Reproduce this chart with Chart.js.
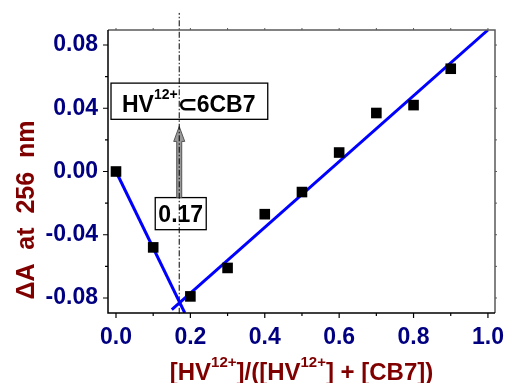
<!DOCTYPE html>
<html>
<head>
<meta charset="utf-8">
<script src="https://cdn.jsdelivr.net/npm/chart.js@4.4.1/dist/chart.umd.min.js"></script>
<style>
  html, body { margin: 0; padding: 0; background: #fff; }
</style>
</head>
<body>
<canvas id="chart" width="506" height="383"></canvas>
<script>
// measured points
const ratio = [0.0, 0.1, 0.2, 0.3, 0.4, 0.5, 0.6, 0.7, 0.8, 0.9];
const deltaA = [0.000, -0.048, -0.079, -0.061, -0.027, -0.013, 0.012, 0.037, 0.042, 0.065];

// the two straight fits, end points
const fitLeftX = [0.0, 0.185];
const fitLeftY = [0.0, -0.0895];
const fitRightX = [0.15, 1.0];
const fitRightY = [-0.0873, 0.0895];

// dash-dot marker at the crossing
const markX = [0.17, 0.17];
const markY = [-0.09, 0.1003];

const xTicks = [0.0, 0.2, 0.4, 0.6, 0.8, 1.0];
const xTickLabels = ["0.0", "0.2", "0.4", "0.6", "0.8", "1.0"];
const xMinor = [0.1, 0.3, 0.5, 0.7, 0.9];
const yTicks = [-0.08, -0.04, 0.0, 0.04, 0.08];
const yTickLabels = ["-0.08", "-0.04", "0.00", "0.04", "0.08"];
const yMinor = [-0.06, -0.02, 0.02, 0.06];

const FONT = '"Liberation Sans", Arial, sans-serif';
const NAVY = "#000080";
const DARKRED = "#800000";

function pts(xs, ys) {
  return xs.map((x, i) => ({ x: x, y: ys[i] }));
}

// text with superscript pieces
function drawRich(ctx, parts, x, y, size, color, align) {
  let total = 0;
  parts.forEach((p) => {
    ctx.font = "bold " + (p.sup ? Math.round(size * 0.62) : size) + "px " + FONT;
    p.w = ctx.measureText(p.t).width;
    total += p.w;
  });
  let cx = align === "center" ? x - total / 2 : x;
  ctx.fillStyle = color;
  ctx.textAlign = "left";
  ctx.textBaseline = "alphabetic";
  parts.forEach((p) => {
    ctx.font = "bold " + (p.sup ? Math.round(size * 0.62) : size) + "px " + FONT;
    ctx.fillText(p.t, cx, p.sup ? y - size * 0.55 : y);
    cx += p.w;
  });
}

const decorations = {
  id: "decorations",
  beforeDatasetsDraw(chart) {
    const ctx = chart.ctx;
    const x = chart.scales.x;
    const y = chart.scales.y;
    ctx.save();

    // complex label box
    let l = x.getPixelForValue(-0.0134), r = x.getPixelForValue(0.408);
    let t = y.getPixelForValue(0.0559), b = y.getPixelForValue(0.033);
    ctx.fillStyle = "#fff";
    ctx.fillRect(l, t, r - l, b - t);
    ctx.strokeStyle = "#000";
    ctx.lineWidth = 1.3;
    ctx.strokeRect(l, t, r - l, b - t);
    drawRich(ctx, [{ t: "HV" }, { t: "12+", sup: true }, { t: "\u2282" }, { t: "6CB7" }],
      l + 11, b - 7.5, 23, "#000", "left");

    // value box
    l = x.getPixelForValue(0.1055); r = x.getPixelForValue(0.2426);
    t = y.getPixelForValue(-0.0165); b = y.getPixelForValue(-0.0368);
    ctx.fillStyle = "#fff";
    ctx.fillRect(l, t, r - l, b - t);
    ctx.strokeRect(l, t, r - l, b - t);
    drawRich(ctx, [{ t: "0.17" }], (l + r) / 2, b - 7.5, 23, "#000", "center");

    // arrow
    const ax = x.getPixelForValue(0.17);
    const ay0 = y.getPixelForValue(-0.0165);
    const ay1 = y.getPixelForValue(0.0285);
    ctx.beginPath();
    ctx.moveTo(ax - 2.5, ay0);
    ctx.lineTo(ax - 2.5, ay1 + 15);
    ctx.lineTo(ax - 5.5, ay1 + 15);
    ctx.lineTo(ax, ay1);
    ctx.lineTo(ax + 5.5, ay1 + 15);
    ctx.lineTo(ax + 2.5, ay1 + 15);
    ctx.lineTo(ax + 2.5, ay0);
    ctx.closePath();
    ctx.fillStyle = "#9a9a9a";
    ctx.fill();
    ctx.strokeStyle = "#555";
    ctx.lineWidth = 1;
    ctx.stroke();
    ctx.restore();
  },
  afterDatasetsDraw(chart) {
    const ctx = chart.ctx;
    const a = chart.chartArea;
    const x = chart.scales.x;
    const y = chart.scales.y;
    ctx.save();
    ctx.lineWidth = 1.5;
    // top and right edges
    ctx.strokeStyle = "#5a5a5a";
    ctx.beginPath();
    ctx.moveTo(a.left, a.top);
    ctx.lineTo(a.right, a.top);
    ctx.lineTo(a.right, a.bottom);
    ctx.stroke();
    // small ticks on top / right
    ctx.lineWidth = 1;
    ctx.beginPath();
    xTicks.concat(xMinor).forEach((v) => {
      const px = x.getPixelForValue(v);
      ctx.moveTo(px, a.top);
      ctx.lineTo(px, a.top - 2);
    });
    yTicks.concat(yMinor).forEach((v) => {
      const py = y.getPixelForValue(v);
      ctx.moveTo(a.right, py);
      ctx.lineTo(a.right + 2, py);
    });
    ctx.stroke();
    // left and bottom axes
    ctx.strokeStyle = "#000";
    ctx.lineWidth = 1.5;
    ctx.beginPath();
    ctx.moveTo(a.left, a.top);
    ctx.lineTo(a.left, a.bottom);
    ctx.lineTo(a.right, a.bottom);
    ctx.stroke();
    ctx.lineWidth = 1.2;
    ctx.beginPath();
    xTicks.forEach((v) => {
      const px = x.getPixelForValue(v);
      ctx.moveTo(px, a.bottom);
      ctx.lineTo(px, a.bottom + 5);
    });
    xMinor.forEach((v) => {
      const px = x.getPixelForValue(v);
      ctx.moveTo(px, a.bottom);
      ctx.lineTo(px, a.bottom + 3);
    });
    yTicks.forEach((v) => {
      const py = y.getPixelForValue(v);
      ctx.moveTo(a.left, py);
      ctx.lineTo(a.left - 5, py);
    });
    yMinor.forEach((v) => {
      const py = y.getPixelForValue(v);
      ctx.moveTo(a.left, py);
      ctx.lineTo(a.left - 3, py);
    });
    ctx.stroke();
    ctx.restore();
  },
  afterDraw(chart) {
    const ctx = chart.ctx;
    const a = chart.chartArea;
    ctx.save();
    // x title
    drawRich(ctx, [
      { t: "[HV" }, { t: "12+", sup: true }, { t: "]/([HV" }, { t: "12+", sup: true },
      { t: "] + [CB7])" }
    ], (a.left + a.right) / 2, 380, 24, DARKRED, "center");
    // y title
    ctx.translate(34, 210);
    ctx.rotate(-Math.PI / 2);
    ctx.font = "bold 25px " + FONT;
    ctx.fillStyle = DARKRED;
    ctx.textAlign = "center";
    ctx.textBaseline = "alphabetic";
    ctx.fillText("\u0394A  at  256  nm", 0, 0);
    ctx.restore();
  }
};

const ctx = document.getElementById("chart").getContext("2d");
new Chart(ctx, {
  type: "scatter",
  data: {
    datasets: [
      {
        label: "data",
        data: pts(ratio, deltaA),
        pointStyle: "rect",
        pointRadius: 7.5,
        backgroundColor: "#000",
        borderColor: "#000",
        borderWidth: 0
      },
      {
        label: "fit1",
        data: pts(fitLeftX, fitLeftY),
        showLine: true,
        borderColor: "#0000ff",
        borderWidth: 3,
        pointRadius: 0
      },
      {
        label: "fit2",
        data: pts(fitRightX, fitRightY),
        showLine: true,
        borderColor: "#0000ff",
        borderWidth: 3,
        pointRadius: 0
      },
      {
        label: "mark",
        data: pts(markX, markY),
        showLine: true,
        borderColor: "#000",
        borderWidth: 1,
        borderDash: [6, 2, 1.5, 2],
        pointRadius: 0,
        clip: false
      }
    ]
  },
  options: {
    responsive: false,
    devicePixelRatio: 1,
    animation: false,
    layout: { padding: { top: 30, right: 11, left: 0, bottom: 0 } },
    plugins: {
      legend: { display: false },
      tooltip: { enabled: false }
    },
    scales: {
      x: {
        type: "linear",
        min: -0.0215,
        max: 1.019,
        grid: { display: false, drawTicks: false },
        border: { display: false },
        afterBuildTicks: (scale) => {
          scale.ticks = xTicks.map((v) => ({ value: v }));
        },
        afterFit: (scale) => {
          scale.height = 70;
          scale.paddingLeft = 0;
          scale.paddingRight = 0;
        },
        ticks: {
          padding: 11,
          autoSkip: false,
          maxRotation: 0,
          color: NAVY,
          font: { family: FONT, size: 23, weight: "bold" },
          callback: (v, i) => xTickLabels[i]
        }
      },
      y: {
        type: "linear",
        min: -0.0895,
        max: 0.0895,
        grid: { display: false, drawTicks: false },
        border: { display: false },
        afterBuildTicks: (scale) => {
          scale.ticks = yTicks.map((v) => ({ value: v }));
        },
        afterFit: (scale) => {
          scale.width = 108;
          scale.paddingTop = 0;
          scale.paddingBottom = 0;
        },
        ticks: {
          padding: 10,
          autoSkip: false,
          color: NAVY,
          font: { family: FONT, size: 23, weight: "bold" },
          callback: (v, i) => yTickLabels[i]
        }
      }
    }
  },
  plugins: [decorations]
});
</script>
</body>
</html>
